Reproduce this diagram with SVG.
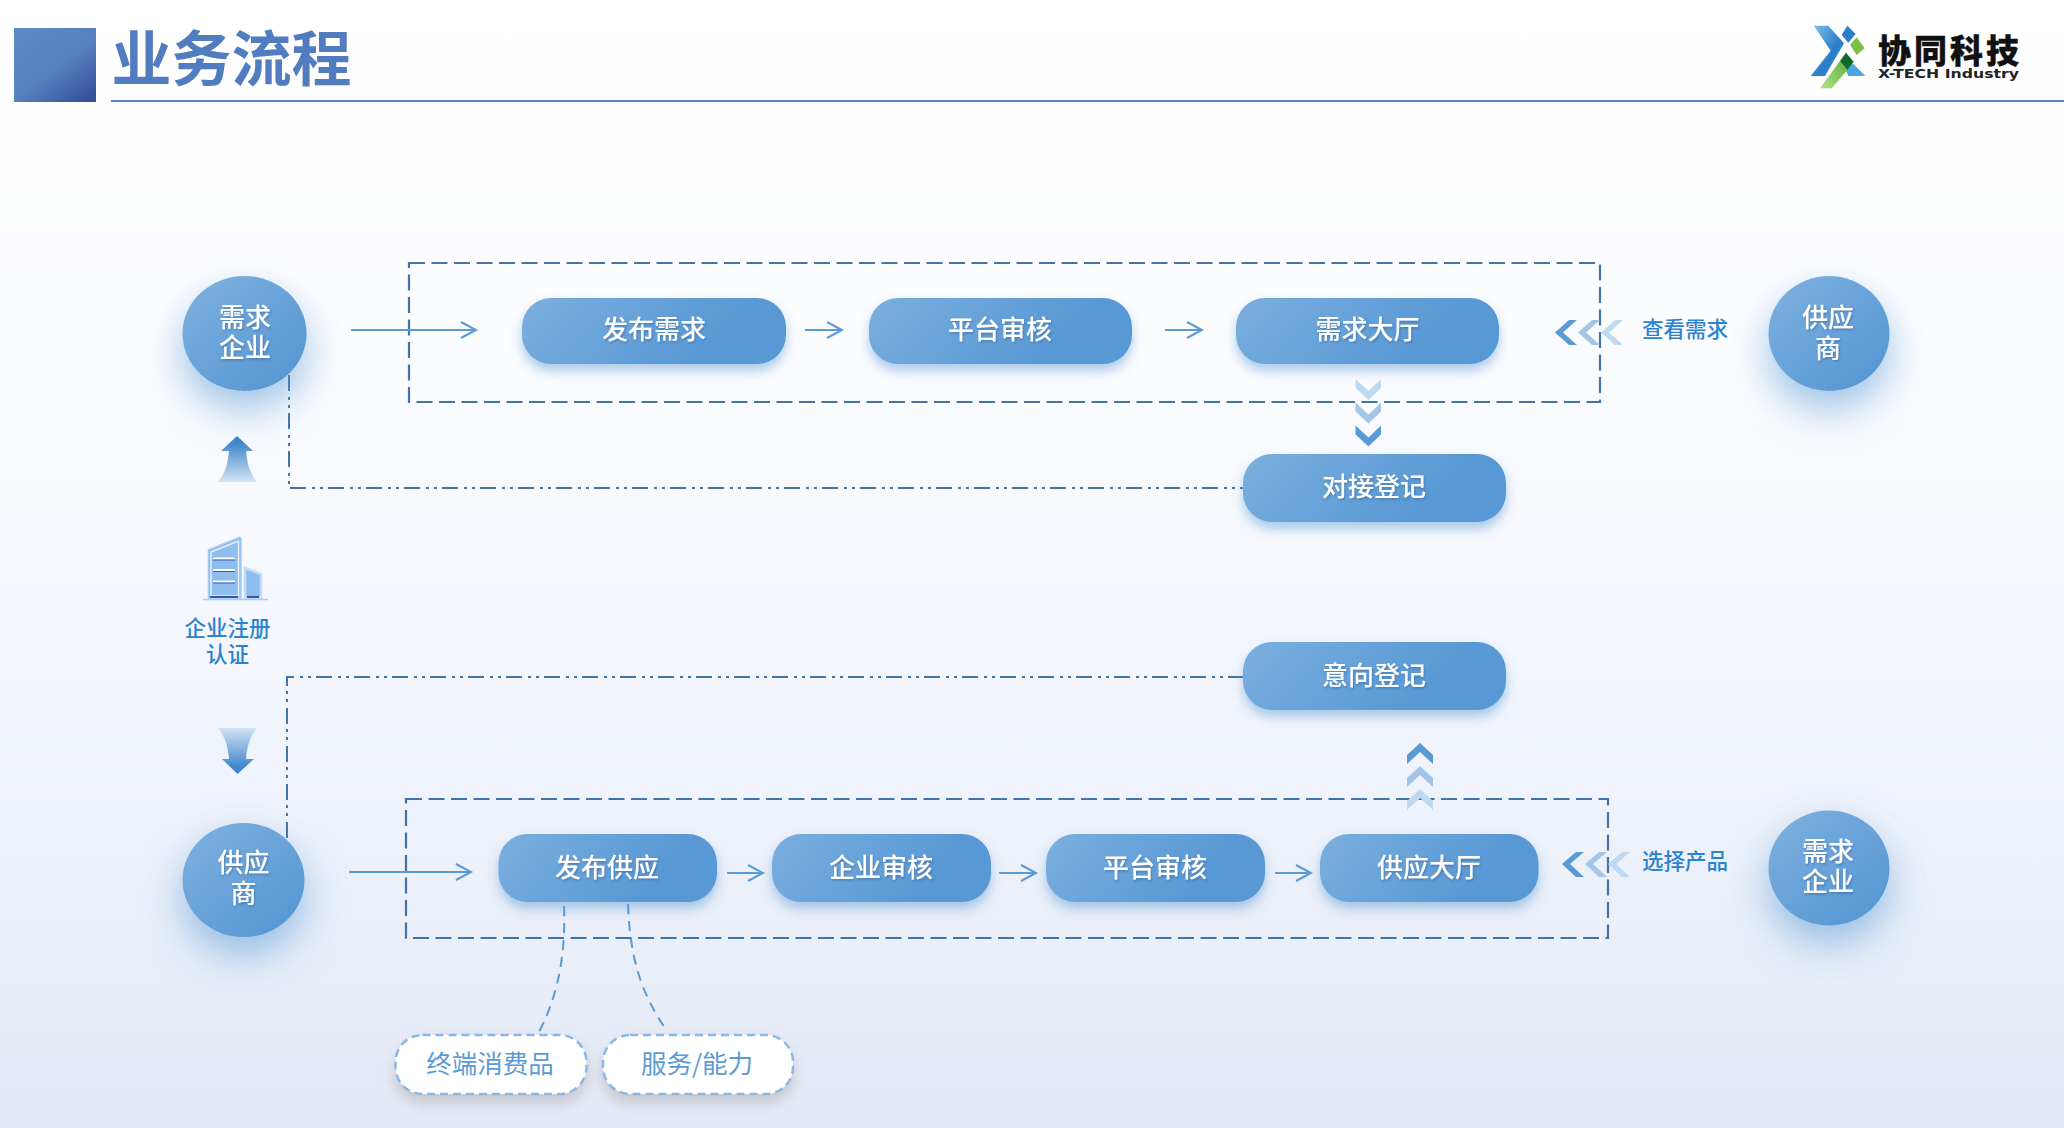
<svg xmlns="http://www.w3.org/2000/svg" width="2064" height="1128" viewBox="0 0 2064 1128">
<style>
text{font-family:"Noto Sans CJK SC","Microsoft YaHei",sans-serif;text-anchor:middle;dominant-baseline:central}
.wt{fill:#fff;font-size:26px;font-weight:500;filter:url(#ts)}
.lb{fill:#2a83d2;font-size:21.5px;font-weight:500}
.sub{fill:#5b9bd5;font-size:25.5px}
.pill{fill:url(#pg);filter:url(#ps)}
.circ{fill:url(#cg);filter:url(#cs)}
.tag{fill:#fff;stroke:#8ab8e2;stroke-width:2.5;stroke-dasharray:8 5;filter:url(#gs)}
.box{fill:none;stroke:#4274a8;stroke-width:2.2;stroke-dasharray:16 6.5}
.dd{fill:none;stroke:#4274a8;stroke-width:2;stroke-dasharray:16 6 3 5 3 5}
.ar{fill:none;stroke:#5b9bd5;stroke-width:2}
.cv{fill:none;stroke:#5b9bd5;stroke-width:2;stroke-dasharray:10 7}
.c1{fill:#5b9bd5}.c2{fill:#a3c6e8}.c3{fill:#bfd9f0}
</style>
<defs>
<linearGradient id="bg" x1="0" y1="0" x2="0" y2="1"><stop offset="0" stop-color="#fff"/><stop offset="0.3" stop-color="#fbfcfe"/><stop offset="0.6" stop-color="#f3f6fd"/><stop offset="1" stop-color="#e3e9f5"/></linearGradient>
<linearGradient id="sq" x1="0.15" y1="0.1" x2="0.9" y2="1"><stop offset="0" stop-color="#5c88c8"/><stop offset="0.5" stop-color="#567fc0"/><stop offset="1" stop-color="#34509b"/></linearGradient>
<linearGradient id="pg" x1="0" y1="0" x2="1" y2="0.25"><stop offset="0" stop-color="#7bafde"/><stop offset="0.85" stop-color="#5898d5"/></linearGradient>
<linearGradient id="cg" x1="0.1" y1="0.05" x2="0.9" y2="0.95"><stop offset="0" stop-color="#7cafde"/><stop offset="1" stop-color="#5596d4"/></linearGradient>
<linearGradient id="up" x1="0" y1="0" x2="0" y2="1"><stop offset="0.15" stop-color="#3f87cc"/><stop offset="1" stop-color="#d3e4f5"/></linearGradient>
<linearGradient id="dn" x1="0" y1="1" x2="0" y2="0"><stop offset="0.15" stop-color="#3f87cc"/><stop offset="1" stop-color="#d3e4f5"/></linearGradient>
<linearGradient id="lb1" x1="0" y1="0" x2="1" y2="1"><stop offset="0" stop-color="#7cc4ee"/><stop offset="0.6" stop-color="#2a7cc8"/><stop offset="1" stop-color="#3a8fd6"/></linearGradient>
<linearGradient id="lg1" x1="1" y1="0" x2="0" y2="1"><stop offset="0" stop-color="#5db23a"/><stop offset="1" stop-color="#b4e08a"/></linearGradient>
<filter id="ps" x="-20%" y="-30%" width="140%" height="190%"><feDropShadow dx="0" dy="7" stdDeviation="6" flood-color="#5b9bd5" flood-opacity="0.5"/></filter>
<filter id="cs" x="-70%" y="-70%" width="240%" height="260%"><feDropShadow dx="0" dy="18" stdDeviation="20" flood-color="#5b9bd5" flood-opacity="0.6"/></filter>
<filter id="gs" x="-20%" y="-30%" width="140%" height="190%"><feDropShadow dx="0" dy="8" stdDeviation="7" flood-color="#8a7f80" flood-opacity="0.35"/></filter>
<filter id="ts" x="-20%" y="-20%" width="140%" height="150%"><feDropShadow dx="1" dy="1.5" stdDeviation="1.2" flood-color="#2f5f95" flood-opacity="0.55"/></filter>
</defs>

<rect id="background" width="2064" height="1128" fill="url(#bg)"/>

<g id="header">
<rect x="14" y="28" width="82" height="74" fill="url(#sq)"/>
<text x="231.500" y="54" font-size="60" font-weight="700" fill="#527cc0">业务流程</text>
<rect x="111" y="100" width="1953" height="2" fill="#5b85c5"/>
</g>

<g id="logo">
<g transform="translate(1760,0) scale(0.3333)">
<polygon points="162,77 205,77 252,130 195,228 152,228 212,152" fill="url(#lb1)"/>
<polygon points="262,77 287,102 265,128 245,105" fill="#2b7fca"/>
<polygon points="290,112 314,145 290,165 270,135" fill="#7cc04a"/>
<polygon points="278,190 316,228 265,228 258,212" fill="#4ba5e2"/>
<polygon points="240,183 262,210 215,265 180,265" fill="url(#lg1)"/>
<polygon points="258,158 281,185 262,210 240,183" fill="#0f6a2a"/>
</g>
<text x="1948.500" y="49" font-size="33" font-weight="900" fill="#111" stroke="#111" stroke-width="0.4" textLength="141" lengthAdjust="spacing">协同科技</text>
<text x="1948.500" y="73" font-size="13" font-weight="700" fill="#222" style="font-family:'DejaVu Sans',sans-serif" textLength="141" lengthAdjust="spacingAndGlyphs">X-TECH Industry</text>
</g>

<g id="connectors">
<rect class="box" x="409" y="263" width="1191" height="139"/>
<rect class="box" x="406" y="799" width="1202" height="139"/>
<path class="dd" d="M289 375V488H1243"/>
<path class="dd" d="M287 838V677H1243"/>
<path class="ar" d="M351 330H476M461 322L476 330L461 338"/>
<path class="ar" d="M805 330H842M827 322L842 330L827 338"/>
<path class="ar" d="M1165 330H1202M1187 322L1202 330L1187 338"/>
<path class="ar" d="M349 872H471M456 864L471 872L456 880"/>
<path class="ar" d="M727 873H763M748 865L763 873L748 881"/>
<path class="ar" d="M999 873H1036M1021 865L1036 873L1021 881"/>
<path class="ar" d="M1275 873H1311M1296 865L1311 873L1296 881"/>
<path class="cv" d="M564 906C566 960 556 1000 538 1034"/>
<path class="cv" d="M628 904C630 960 642 995 667 1031"/>
</g>

<g id="chevrons">
<g id="chev-left-top">
<polygon class="c1" points="1555,332.5 1569,320 1577,320 1563,332.5 1577,345 1569,345"/>
<polygon class="c2" points="1578,332.5 1592,320 1600,320 1586,332.5 1600,345 1592,345"/>
<polygon class="c3" points="1601,332.5 1615,320 1623,320 1609,332.5 1623,345 1615,345"/>
</g>
<g id="chev-left-bottom">
<polygon class="c1" points="1562,864 1576,852 1584,852 1570,864 1584,877 1576,877"/>
<polygon class="c2" points="1585,864 1599,852 1607,852 1593,864 1607,877 1599,877"/>
<polygon class="c3" points="1608,864 1622,852 1630,852 1616,864 1630,877 1622,877"/>
</g>
<g id="chev-down">
<polygon class="c3" points="1355.5,379 1368.5,391 1381,379 1381,388 1368.5,400 1355.5,388"/>
<polygon class="c2" points="1355.5,402.5 1368.5,414.5 1381,402.5 1381,411.5 1368.5,423.5 1355.5,411.5"/>
<polygon class="c1" points="1355.5,425.5 1368.5,437.5 1381,425.5 1381,434.5 1368.5,446.5 1355.5,434.5"/>
</g>
<g id="chev-up">
<polygon class="c1" points="1420,743 1433,755 1433,764 1420,752 1407,764 1407,755"/>
<polygon class="c2" points="1420,766 1433,778 1433,787 1420,775 1407,787 1407,778"/>
<polygon class="c3" points="1420,789 1433,801 1433,810 1420,798 1407,810 1407,801"/>
</g>
</g>

<g id="node-demand-left"><ellipse class="circ" cx="244.500" cy="333.500" rx="62" ry="57.500"/><text class="wt" x="245" y="315">需求<tspan x="245" dy="30">企业</tspan></text></g>
<g id="node-supply-left"><ellipse class="circ" cx="243.500" cy="880" rx="61" ry="57"/><text class="wt" x="243.500" y="860">供应<tspan x="243.500" dy="31">商</tspan></text></g>
<g id="node-supply-right"><ellipse class="circ" cx="1829" cy="333.500" rx="60.500" ry="57.500"/><text class="wt" x="1828" y="315">供应<tspan x="1828" dy="31">商</tspan></text></g>
<g id="node-demand-right"><ellipse class="circ" cx="1829" cy="868" rx="60.500" ry="57.500"/><text class="wt" x="1828" y="849">需求<tspan x="1828" dy="30">企业</tspan></text></g>

<g id="node-publish-demand"><rect class="pill" x="522" y="298" width="264" height="66" rx="29"/><text class="wt" x="654" y="327">发布需求</text></g>
<g id="node-audit-top"><rect class="pill" x="869" y="298" width="263" height="66" rx="29"/><text class="wt" x="1000" y="327">平台审核</text></g>
<g id="node-demand-hall"><rect class="pill" x="1236" y="298" width="263" height="66" rx="29"/><text class="wt" x="1367.500" y="327">需求大厅</text></g>
<g id="node-dock"><rect class="pill" x="1243" y="454" width="263" height="68" rx="29"/><text class="wt" x="1374" y="484">对接登记</text></g>
<g id="node-intent"><rect class="pill" x="1243" y="642" width="263" height="68" rx="29"/><text class="wt" x="1374" y="673">意向登记</text></g>
<g id="node-publish-supply"><rect class="pill" x="498.500" y="834" width="218.500" height="68" rx="29"/><text class="wt" x="607" y="865">发布供应</text></g>
<g id="node-company-audit"><rect class="pill" x="772" y="834" width="219" height="68" rx="29"/><text class="wt" x="881" y="865">企业审核</text></g>
<g id="node-audit-bottom"><rect class="pill" x="1046" y="834" width="219" height="68" rx="29"/><text class="wt" x="1155" y="865">平台审核</text></g>
<g id="node-supply-hall"><rect class="pill" x="1320" y="834" width="218.500" height="68" rx="29"/><text class="wt" x="1429" y="865">供应大厅</text></g>

<g id="node-consumer"><rect class="tag" x="395.500" y="1035" width="191" height="59" rx="27"/><text class="sub" x="490" y="1061">终端消费品</text></g>
<g id="node-service"><rect class="tag" x="603" y="1035" width="190" height="59" rx="27"/><text class="sub" x="697" y="1061">服务/能力</text></g>

<g id="label-view"><text class="lb" x="1685" y="327">查看需求</text></g>
<g id="label-select"><text class="lb" x="1685" y="859">选择产品</text></g>

<g id="node-register">
<path d="M237 436L253 451H246C247 462 249 472 257 482H218C226 472 228 462 229 451H221Z" fill="url(#up)"/>
<g id="building">
<path d="M208.500 550L239 537.500C240 537 241 538 241 539V598H208.500Z" fill="#8fbdee" stroke="#a3cbf5" stroke-width="1.500"/>
<path d="M211 552L238.500 541V596H211Z" fill="none" stroke="#e4f0fc" stroke-width="1.500"/>
<path d="M245 568L261 574V598H245Z" fill="#8fbdee" stroke="#c4defa" stroke-width="2.500"/>
<path d="M213 558.500H235M213 570H235M213 581.500H235" stroke="#fff" stroke-width="2"/>
<path d="M213 560H235M213 571.500H235M213 583H235" stroke="#3f5da8" stroke-width="1"/>
<path d="M210 597H238M247 597H259" stroke="#34589f" stroke-width="2"/>
<path d="M203 599.500H268" stroke="#a9cdf5" stroke-width="1.500"/>
</g>
<text class="lb" x="227.500" y="626">企业注册<tspan x="227.500" dy="26">认证</tspan></text>
<path d="M218 728H257C249 738 247 748 246 759H254L237.500 774L222 759H229C228 748 226 738 218 728Z" fill="url(#dn)"/>
</g>
</svg>
